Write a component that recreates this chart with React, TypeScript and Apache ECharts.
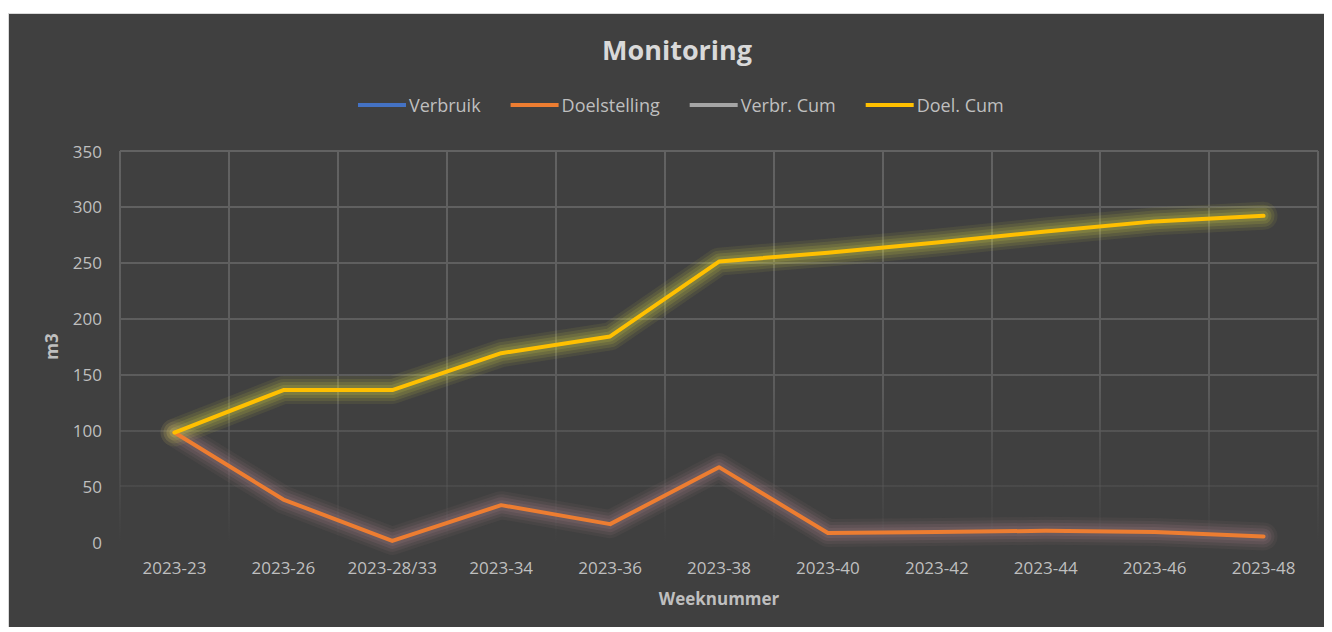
import React, { useEffect, useRef } from 'react';
import * as echarts from 'echarts';

const categories = ['2023-23', '2023-26', '2023-28/33', '2023-34', '2023-36', '2023-38', '2023-40', '2023-42', '2023-44', '2023-46', '2023-48'];
const verbruik: (number | null)[] = [];
const doelstelling = [98, 38, 1, 33, 16, 67, 8, 9, 10, 9, 5];
const verbrCum: (number | null)[] = [];
const doelCum = [98, 136, 136, 169, 184, 251, 259, 268, 278, 287, 292];
const seriesNames = ['Verbruik', 'Doelstelling', 'Verbr. Cum', 'Doel. Cum'];

const FONT = '"Open Sans", "Noto Sans", sans-serif';
const LABEL = '#bfbfbf';

export default function App() {
  const ref = useRef<HTMLDivElement>(null);
  useEffect(() => {
    document.body.style.overflow = 'hidden';
    const chart = echarts.init(ref.current!, null, { renderer: 'svg' });
    const gridTop = 137;
    const gridBottomY = 528;
    const fade = {
      type: 'linear', x: 0, y: gridTop, x2: 0, y2: gridBottomY, global: true,
      colorStops: [
        { offset: 0, color: 'rgba(98,98,98,1)' },
        { offset: 0.6, color: 'rgba(92,92,92,1)' },
        { offset: 1, color: 'rgba(90,90,90,0)' },
      ],
    };
    const mk = (name: string, data: (number | null)[], color: string) => ({
      name, type: 'line', data, symbol: 'none', showSymbol: false, z: 3,
      itemStyle: { color },
      lineStyle: { color, width: 4, cap: 'round', join: 'round' },
    });
    const glowLayers = [
      { width: 28, alpha: 0.05 },
      { width: 22, alpha: 0.07 },
      { width: 16, alpha: 0.09 },
      { width: 10, alpha: 0.1 },
    ];
    const glow = (name: string, data: (number | null)[], rgb: string, k: number) =>
      glowLayers.map((g, i) => ({
        name: name + ' glow ' + i, type: 'line', data, symbol: 'none', showSymbol: false, z: 2,
        silent: true,
        lineStyle: { color: `rgba(${rgb},${g.alpha * k})`, width: g.width, cap: 'round', join: 'round' },
      }));
    chart.setOption({
      animation: false,
      backgroundColor: '#404040',
      textStyle: { fontFamily: FONT },
      title: {
        text: 'Monitoring', left: 588, top: 17,
        textStyle: { color: '#d9d9d9', fontSize: 27, fontWeight: 'bold', fontFamily: FONT },
      },
      legend: {
        data: seriesNames, left: 344, top: 77,
        icon: 'rect', itemWidth: 48, itemHeight: 4, itemGap: 30,
        textStyle: { color: LABEL, fontSize: 18, fontFamily: FONT, padding: [0, 0, 0, -2] },
      },
      grid: { left: 111, right: 15, top: gridTop, bottom: 90, containLabel: false },
      xAxis: {
        type: 'category', data: categories, boundaryGap: true,
        name: 'Weeknummer', nameLocation: 'middle', nameGap: 48,
        nameTextStyle: { color: LABEL, fontSize: 17, fontWeight: 'bold', fontFamily: FONT },
        axisLine: { show: false }, axisTick: { show: false },
        axisLabel: { color: LABEL, fontSize: 17, margin: 17, interval: 0, fontFamily: FONT },
        splitLine: { show: true, lineStyle: { color: fade, width: 2 } },
      },
      yAxis: {
        type: 'value', min: 0, max: 350, interval: 50,
        name: 'm3', nameLocation: 'middle', nameGap: 60, nameRotate: 90,
        nameTextStyle: { color: LABEL, fontSize: 17, fontWeight: 'bold', fontFamily: FONT },
        axisLine: { show: false }, axisTick: { show: false },
        axisLabel: { color: LABEL, fontSize: 17, margin: 18, fontFamily: FONT },
        splitLine: { show: true, lineStyle: { color: fade, width: 2 } },
      },
      series: [
        ...glow('Doelstelling', doelstelling, '200,150,160', 1.2),
        ...glow('Doel. Cum', doelCum, '225,225,70', 1.5),
        mk('Verbruik', verbruik, '#4472C4'),
        mk('Doelstelling', doelstelling, '#ED7D31'),
        mk('Verbr. Cum', verbrCum, '#A5A5A5'),
        mk('Doel. Cum', doelCum, '#FFC000'),
      ],
    });
    return () => chart.dispose();
  }, []);
  return (
    <div style={{ position: 'relative', top: 5, width: 1325, height: 619, boxSizing: 'border-box', borderTop: '1px solid #d9d9d9', borderLeft: '1px solid #d9d9d9', overflow: 'hidden' }}>
      <div ref={ref} style={{ width: 1324, height: 618 }} />
    </div>
  );
}
